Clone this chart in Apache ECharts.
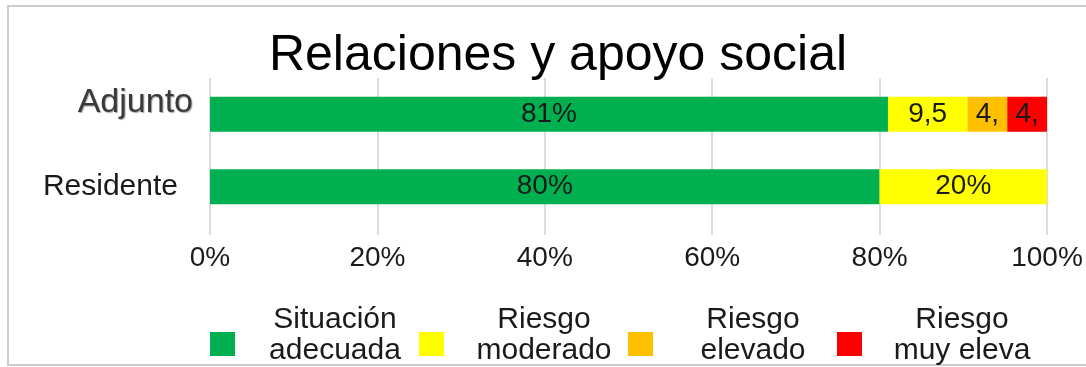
<!DOCTYPE html>
<html>
<head>
<meta charset="utf-8">
<script src="https://cdn.jsdelivr.net/npm/echarts@6/dist/echarts.min.js"></script>
<style>
  html, body { margin: 0; padding: 0; background: #ffffff; }
  #chart { width: 1086px; height: 367px; }
</style>
</head>
<body>
<div id="chart"></div>
<script>
// Categories (top to bottom)
const categories = ['Adjunto', 'Residente'];

// Series names and the two-line legend text drawn for each
const seriesNames = ['Situación adecuada', 'Riesgo moderado', 'Riesgo elevado', 'Riesgo muy elevado'];
const legendLines = [['Situación', 'adecuada'], ['Riesgo', 'moderado'], ['Riesgo', 'elevado'], ['Riesgo', 'muy eleva']];

// Percentages per series, one value per category
const situacionAdecuada = [81, 80];
const riesgoModerado = [9.5, 20];
const riesgoElevado = [4.75, 0];
const riesgoMuyElevado = [4.75, 0];

// X-axis ticks
const xTicks = [0, 20, 40, 60, 80, 100];

const colors = ['#00b050', '#ffff00', '#ffc000', '#ff0000'];
const seriesValues = [situacionAdecuada, riesgoModerado, riesgoElevado, riesgoMuyElevado];

const GRID_LEFT = 210, GRID_RIGHT = 39;
const plotWidth = 1086 - GRID_LEFT - GRID_RIGHT;
const FONT = 'Liberation Sans, Arial, sans-serif';

function fmtPct(v) {
  return Number.isInteger(v) ? v + '%' : v.toFixed(1).replace('.', ',') + '%';
}

const chart = echarts.init(document.getElementById('chart'), null, { renderer: 'canvas' });

const series = seriesNames.map((name, i) => ({
  name: name,
  type: 'bar',
  stack: 'total',
  barWidth: 35,
  itemStyle: { color: colors[i] },
  emphasis: { disabled: true },
  label: {
    show: true,
    position: 'inside',
    color: '#1a1a1a',
    fontFamily: FONT,
    fontSize: 28,
    overflow: 'truncate',
    ellipsis: '',
    formatter: p => (p.value > 0 ? fmtPct(p.value) : '')
  },
  // labels are clipped to a share of the segment length on the value scale
  data: seriesValues[i].map(v => ({
    value: v,
    label: { width: Math.max(1, v / 100 * plotWidth * 0.75) }
  }))
}));

const option = {
  backgroundColor: '#ffffff',
  animation: false,
  color: colors,
  graphic: [{
    type: 'rect',
    shape: { x: 8, y: 6, width: 1100, height: 359 },
    style: { fill: 'none', stroke: '#cccccc', lineWidth: 2 },
    silent: true
  }],
  title: {
    text: 'Relaciones y apoyo social',
    left: 553,
    top: 26,
    textAlign: 'center',
    textStyle: {
      fontFamily: FONT,
      fontSize: 50,
      fontWeight: 'normal',
      color: '#000000'
    }
  },
  legend: {
    left: 210,
    top: 305,
    padding: 0,
    itemWidth: 25,
    itemHeight: 24,
    itemGap: 1,
    icon: 'rect',
    selectedMode: false,
    data: seriesNames,
    formatter: name => {
      const lines = legendLines[seriesNames.indexOf(name)];
      return lines.map(l => '{t|' + l + '}').join('\n');
    },
    textStyle: {
      padding: [0, 0, 17, 12],
      rich: {
        t: {
          width: 166,
          align: 'center',
          fontSize: 30,
          lineHeight: 31,
          color: '#1a1a1a',
          fontFamily: FONT
        }
      }
    }
  },
  grid: { left: GRID_LEFT, right: GRID_RIGHT, top: 78, bottom: 144, containLabel: false },
  xAxis: {
    type: 'value',
    min: xTicks[0],
    max: xTicks[xTicks.length - 1],
    interval: xTicks[1] - xTicks[0],
    axisLine: { show: false },
    axisTick: { show: true, length: 12, lineStyle: { color: '#dcdcdc', width: 2 } },
    splitLine: { show: true, lineStyle: { color: '#dcdcdc', width: 2 } },
    axisLabel: {
      margin: 21,
      fontSize: 28,
      color: '#1a1a1a',
      fontFamily: FONT,
      formatter: '{value}%'
    }
  },
  yAxis: {
    type: 'category',
    inverse: true,
    data: categories,
    axisLine: { show: false },
    axisTick: { show: false },
    axisLabel: {
      margin: 17,
      formatter: v => (v === 'Adjunto' ? '{a|' + v + '}' : '{r|' + v + '}'),
      rich: {
        a: {
          fontSize: 34,
          color: '#3a3a3a',
          padding: [0, 0, 23, 0],
          fontFamily: FONT,
          textShadowColor: 'rgba(0,0,0,0.35)',
          textShadowBlur: 1,
          textShadowOffsetX: 1,
          textShadowOffsetY: 1
        },
        r: {
          fontSize: 30,
          color: '#1a1a1a',
          padding: [0, 15, 0, 0],
          fontFamily: FONT
        }
      }
    }
  },
  series: series
};

chart.setOption(option);
</script>
</body>
</html>
